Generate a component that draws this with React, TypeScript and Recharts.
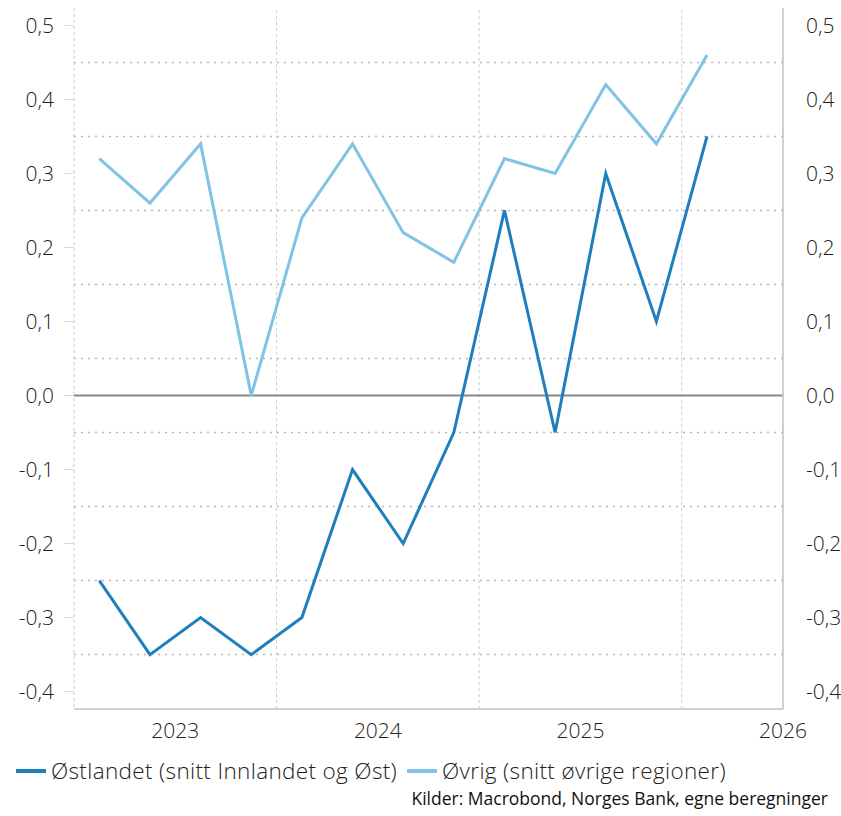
import React from 'react';
import { LineChart, Line, XAxis, YAxis, ReferenceLine } from 'recharts';

// Quarterly observations, 2023 Q1 – 2026 Q1 (placed at mid-quarter)
const QUARTERS = [
  '2023Q1', '2023Q2', '2023Q3', '2023Q4',
  '2024Q1', '2024Q2', '2024Q3', '2024Q4',
  '2025Q1', '2025Q2', '2025Q3', '2025Q4',
  '2026Q1',
];
const OSTLANDET = [-0.25, -0.35, -0.3, -0.35, -0.3, -0.1, -0.2, -0.05, 0.25, -0.05, 0.3, 0.1, 0.35];
const OVRIG = [0.32, 0.26, 0.34, 0.0, 0.24, 0.34, 0.22, 0.18, 0.32, 0.3, 0.42, 0.34, 0.46];

const Y_TICKS = [-0.4, -0.3, -0.2, -0.1, 0, 0.1, 0.2, 0.3, 0.4, 0.5];
const Y_GRID = [-0.35, -0.25, -0.15, -0.05, 0.05, 0.15, 0.25, 0.35, 0.45];
const X_TICKS = [2023.5, 2024.5, 2025.5, 2026.5];
const X_GRID = [2024, 2025, 2026];

const DARK = '#1f7fbd';
const LIGHT = '#80c3e5';
const FONT = '"Open Sans", "Noto Sans", sans-serif';

const quarterToNum = (q: string) => {
  const year = Number(q.slice(0, 4));
  const n = Number(q.slice(5));
  return year + (n - 0.5) / 4;
};

const data = QUARTERS.map((q, i) => ({
  t: quarterToNum(q),
  ost: OSTLANDET[i],
  ovrig: OVRIG[i],
}));

const fmt = (v: number) => v.toFixed(1).replace('.', ',');
const tickStyle = { fontSize: 21, fill: '#222', fontFamily: FONT, fontWeight: 300 };

const LegendBox = () => (
  <div style={{ position: 'absolute', left: 0, top: 755, width: 841, fontFamily: FONT, color: '#222' }}>
    <div style={{ display: 'flex', alignItems: 'center', fontSize: 22.5, fontWeight: 300, whiteSpace: 'nowrap', letterSpacing: 0.35 }}>
      <span style={{ display: 'inline-block', width: 30, height: 4, background: DARK, marginLeft: 16, marginRight: 5 }} />
      <span>Østlandet (snitt Innlandet og Øst)</span>
      <span style={{ display: 'inline-block', width: 30, height: 4, background: LIGHT, marginLeft: 10, marginRight: 5 }} />
      <span>Øvrig (snitt øvrige regioner)</span>
    </div>
    <div style={{ fontSize: 17.5, textAlign: 'right', marginRight: 13, marginTop: 0, color: '#111' }}>
      Kilder: Macrobond, Norges Bank, egne beregninger
    </div>
  </div>
);

export default function App() {
  return (
    <div style={{ position: 'absolute', left: 0, top: 0, width: 841, height: 816, background: '#fff' }}>
      <LineChart width={841} height={750} data={data} margin={{ top: 8, right: 0, bottom: 0, left: 0 }}>
        <XAxis
          dataKey="t"
          type="number"
          domain={[2023, 2026.5]}
          ticks={X_TICKS}
          tickFormatter={(v: number) => String(Math.floor(v))}
          tickLine={false}
          axisLine={{ stroke: '#bfbfbf', strokeWidth: 1.5 }}
          tick={tickStyle}
          tickMargin={8}
          height={41}
          allowDataOverflow
        />
        <YAxis
          yAxisId="left"
          width={74}
          domain={[-0.4235, 0.5235]}
          ticks={Y_TICKS}
          tickFormatter={fmt}
          allowDataOverflow
          tickSize={10}
          tickMargin={10}
          tickLine={{ stroke: '#d9d9d9' }}
          axisLine={{ stroke: '#c8c8c8', strokeDasharray: '3 3' }}
          tick={tickStyle}
        />
        <YAxis
          yAxisId="right"
          orientation="right"
          width={58}
          domain={[-0.4235, 0.5235]}
          ticks={Y_TICKS}
          tickFormatter={fmt}
          allowDataOverflow
          tickLine={false}
          tickMargin={17}
          axisLine={{ stroke: '#bfbfbf', strokeWidth: 1.5 }}
          tick={tickStyle}
        />
        {Y_GRID.map((y) => (
          <ReferenceLine key={`hy${y}`} yAxisId="left" y={y} stroke="#b8b8b8" strokeWidth={1.5} strokeDasharray="2 5" />
        ))}
        {X_GRID.map((x) => (
          <ReferenceLine key={`vx${x}`} yAxisId="left" x={x} stroke="#cccccc" strokeDasharray="3 3" />
        ))}
        <ReferenceLine yAxisId="left" y={0} stroke="#888888" strokeWidth={2} />
        <Line
          yAxisId="left"
          dataKey="ovrig"
          name="Øvrig (snitt øvrige regioner)"
          stroke={LIGHT}
          strokeWidth={3}
          dot={false}
          isAnimationActive={false}
        />
        <Line
          yAxisId="left"
          dataKey="ost"
          name="Østlandet (snitt Innlandet og Øst)"
          stroke={DARK}
          strokeWidth={3}
          dot={false}
          isAnimationActive={false}
        />
      </LineChart>
      <LegendBox />
    </div>
  );
}
